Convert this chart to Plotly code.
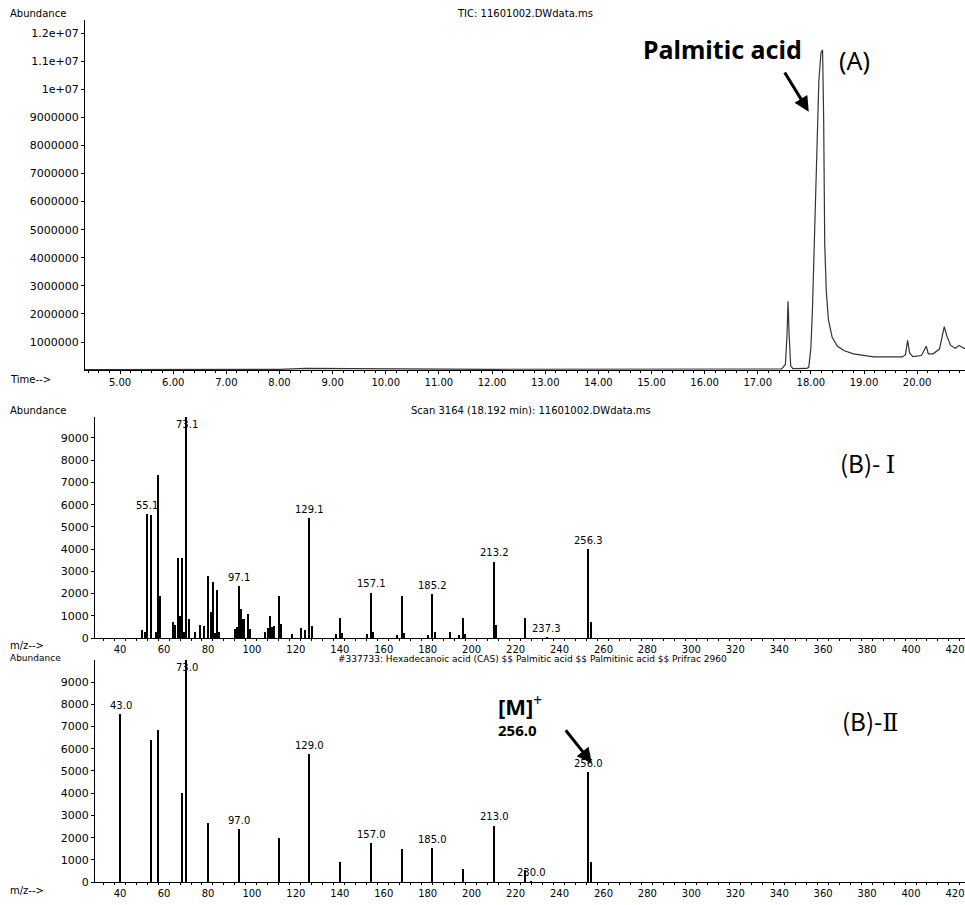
import plotly.graph_objects as go

W, H = 965, 905

# ---------------- data ----------------
# (A) TIC chromatogram: retention time (min) vs abundance (x1e6)
tic_time = [4.34, 8.0, 8.5, 12.0, 17.45, 17.52, 17.55, 17.57, 17.59, 17.62, 17.66,
            17.92, 17.96, 18.00, 18.03, 18.06, 18.10, 18.15, 18.19, 18.22, 18.24,
            18.26, 18.29, 18.33, 18.40, 18.50, 18.62, 18.80, 19.18, 19.45, 19.72,
            19.78, 19.82, 19.86, 19.92, 20.08, 20.13, 20.17, 20.21, 20.30, 20.42,
            20.47, 20.51, 20.56, 20.63, 20.72, 20.79, 20.86, 20.92]
tic_abund_M = [0.02, 0.03, 0.06, 0.03, 0.04, 0.20, 1.20, 2.45, 1.30, 0.15, 0.05,
               0.06, 0.10, 0.80, 2.20, 4.30, 7.50, 10.3, 11.3, 11.4, 9.0,
               4.50, 2.80, 1.80, 1.17, 0.85, 0.70, 0.58, 0.47, 0.46, 0.47,
               0.55, 1.06, 0.60, 0.48, 0.52, 0.70, 0.85, 0.58, 0.58, 0.75,
               1.20, 1.55, 1.20, 0.88, 0.78, 0.88, 0.80, 0.75]

tic_ytick_vals = [1e6, 2e6, 3e6, 4e6, 5e6, 6e6, 7e6, 8e6, 9e6, 1e7, 1.1e7, 1.2e7]
tic_ytick_text = ["1000000", "2000000", "3000000", "4000000", "5000000", "6000000",
                  "7000000", "8000000", "9000000", "1e+07", "1.1e+07", "1.2e+07"]
time_ticks = [5, 6, 7, 8, 9, 10, 11, 12, 13, 14, 15, 16, 17, 18, 19, 20]

# (B)-I measured spectrum, scan 3164
mz_b1 = [53, 54, 55, 57, 59, 60, 61, 67, 68, 69, 70, 71, 72, 73, 74, 77, 79, 81,
         83, 84, 85, 86, 87, 88, 95, 96, 97, 98, 99, 101, 102, 109, 110, 111, 112,
         113, 115, 116, 121, 125, 127, 129, 130, 141, 143, 144, 155, 157, 158, 169,
         171, 172, 183, 185, 186, 193, 197, 199, 200, 213, 214, 227, 237, 256, 257]
ab_b1 = [360, 300, 5600, 5550, 300, 7350, 1900, 750, 600, 3600, 1000, 3600, 300,
         9950, 870, 300, 600, 550, 2800, 1200, 2550, 250, 2150, 300, 430, 500, 2350,
         1300, 850, 1100, 400, 300, 450, 1000, 500, 550, 1900, 650, 200, 450, 380,
         5400, 560, 200, 900, 250, 200, 2050, 300, 150, 1900, 250, 150, 2000, 300,
         300, 150, 900, 200, 3450, 600, 900, 60, 4000, 750]
lab_b1_mz = [55, 73, 97, 129, 157, 185, 213, 237, 256]
lab_b1_text = ["55.1", "73.1", "97.1", "129.1", "157.1", "185.2", "213.2", "237.3", "256.3"]

# (B)-II library spectrum, #337733 Hexadecanoic acid
mz_b2 = [43, 57, 60, 71, 73, 83, 97, 115, 129, 143, 157, 171, 185, 199, 213, 227, 230, 256, 257]
ab_b2 = [7550, 6400, 6850, 4000, 10000, 2650, 2380, 2000, 5750, 900, 1750, 1480,
         1550, 600, 2550, 550, 30, 4970, 920]
lab_b2_mz = [43, 73, 97, 129, 157, 185, 213, 230, 256]
lab_b2_text = ["43.0", "73.0", "97.0", "129.0", "157.0", "185.0", "213.0", "230.0", "256.0"]

ms_yticks = [0, 1000, 2000, 3000, 4000, 5000, 6000, 7000, 8000, 9000]
mz_ticks = list(range(40, 421, 20))

# ---------------- figure ----------------
def px(x):
    return x / W


def py(y):
    return 1 - y / H


TICK_FONT = dict(family="DejaVu Sans", size=11, color="black")
XTICK_FONT = dict(family="DejaVu Sans", size=10, color="black")

fig = go.Figure()
fig.add_trace(go.Scatter(x=tic_time, y=[v * 1e6 for v in tic_abund_M], mode="lines",
                         line=dict(color="#333333", width=1.2), xaxis="x", yaxis="y",
                         showlegend=False, hoverinfo="skip"))
fig.add_trace(go.Bar(x=mz_b1, y=ab_b1, width=0.7, marker=dict(color="black", line=dict(width=0)),
                     xaxis="x2", yaxis="y2", showlegend=False))
fig.add_trace(go.Bar(x=mz_b2, y=ab_b2, width=0.7, marker=dict(color="black", line=dict(width=0)),
                     xaxis="x3", yaxis="y3", showlegend=False))

axis_common = dict(showline=True, linecolor="black", linewidth=1, ticks="outside",
                   tickcolor="black", showgrid=False, zeroline=False, fixedrange=True)

fig.update_layout(
    width=W, height=H, margin=dict(l=0, r=0, t=0, b=0),
    paper_bgcolor="white", plot_bgcolor="white", bargap=0,
    xaxis=dict(domain=[px(85), 1], range=[4.34, 20.9], anchor="y",
               tickvals=time_ticks, ticktext=[f"{v:.2f}" for v in time_ticks],
               ticklen=3, tickfont=XTICK_FONT,
               minor=dict(ticks="outside", dtick=0.2, ticklen=2, tickcolor="black"),
               **axis_common),
    yaxis=dict(domain=[py(373), py(20)], range=[0, 12.47e6], anchor="x",
               tickvals=tic_ytick_vals, ticktext=tic_ytick_text, ticklen=3,
               tickfont=TICK_FONT, **axis_common),
    xaxis2=dict(domain=[px(95), 1], range=[31.3, 427.3], anchor="y2",
                tickvals=mz_ticks, ticklen=2, tickfont=XTICK_FONT, ticklabelshift=6,
                minor=dict(ticks="outside", dtick=5, ticklen=2, tickcolor="black"),
                **axis_common),
    yaxis2=dict(domain=[py(643), py(420)], range=[0, 9955], anchor="x2",
                tickvals=ms_yticks, ticklen=3, tickfont=TICK_FONT, **axis_common),
    xaxis3=dict(domain=[px(95), 1], range=[31.3, 427.3], anchor="y3",
                tickvals=mz_ticks, ticklen=2, tickfont=XTICK_FONT, ticklabelshift=6,
                minor=dict(ticks="outside", dtick=5, ticklen=2, tickcolor="black"),
                **axis_common),
    yaxis3=dict(domain=[py(889), py(665)], range=[0, 10000], anchor="x3",
                tickvals=ms_yticks, ticklen=3, tickfont=TICK_FONT, **axis_common),
)

ann = []
SMALL = dict(family="DejaVu Sans", size=10, color="black")
TINY = dict(family="DejaVu Sans", size=9, color="black")


def paper_text(text, x, y, font, xanchor="left"):
    ann.append(dict(text=text, x=px(x), y=py(y), xref="paper", yref="paper",
                    xanchor=xanchor, yanchor="middle", showarrow=False, font=font))


paper_text("Abundance", 8, 14, SMALL)
paper_text("TIC: 11601002.DWdata.ms", 525, 14, SMALL, "center")
paper_text("Time-->", 8, 382, SMALL)
paper_text("Abundance", 8, 414, SMALL)
paper_text("Scan 3164 (18.192 min): 11601002.DWdata.ms", 531, 414, SMALL, "center")
paper_text("m/z-->", 8, 651, SMALL)
paper_text("Abundance", 8, 663, TINY)
paper_text("#337733: Hexadecanoic acid (CAS) $$ Palmitic acid $$ Palmitinic acid $$ Prifrac 2960",
           532, 664, TINY, "center")
paper_text("m/z-->", 8, 897, SMALL)

BIG = dict(family="Noto Sans, Noto Sans CJK KR", size=25, color="black")
ROMAN = dict(family="Noto Sans CJK KR, Noto Sans", size=24, color="black")
SERIF = "<span style='font-family:DejaVu Serif'>%s</span>"
paper_text("<b>Palmitic acid</b>", 722, 49, BIG, "center")
paper_text("(A)", 854, 60, BIG, "center")
paper_text("(B)- " + SERIF % "Ⅰ", 867, 466, ROMAN, "center")
paper_text("(B)-" + SERIF % "Ⅱ", 870, 726, ROMAN, "center")
paper_text("<b>[M]</b><sup>+</sup>", 520, 711, dict(family="Noto Sans", size=22, color="black"), "center")
paper_text("<b>256.0</b>", 517, 736, dict(family="Noto Sans", size=15, color="black"), "center")

# arrows
ann.append(dict(x=17.96, y=9.2e6, ax=17.49, ay=10.65e6, xref="x", yref="y",
                axref="x", ayref="y", text="", showarrow=True, arrowhead=2,
                arrowsize=1, arrowwidth=3, arrowcolor="black"))
ann.append(dict(x=257.5, y=5350, ax=245.0, ay=6900, xref="x3", yref="y3",
                axref="x3", ayref="y3", text="", showarrow=True, arrowhead=2,
                arrowsize=1, arrowwidth=3, arrowcolor="black"))

# peak labels
def peak_labels(mzs, texts, allmz, allab, xr, yr, ymax):
    for m, t in zip(mzs, texts):
        h = allab[allmz.index(m)]
        top = h > 0.9 * ymax
        ann.append(dict(x=m, y=h, xref=xr, yref=yr, text=t, showarrow=False,
                        xanchor="center", yanchor="top" if top else "bottom",
                        yshift=0 if top else 1, font=SMALL))


peak_labels(lab_b1_mz, lab_b1_text, mz_b1, ab_b1, "x2", "y2", 9955)
peak_labels(lab_b2_mz, lab_b2_text, mz_b2, ab_b2, "x3", "y3", 10000)

fig.update_layout(annotations=ann)
fig.write_html("out.html", config={"displayModeBar": False},
               post_script="document.body.style.margin='0px';")
